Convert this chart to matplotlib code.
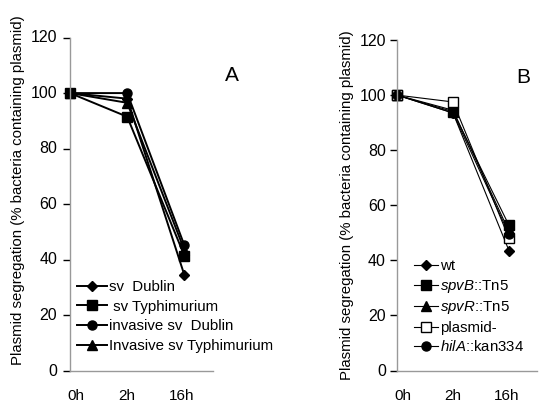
import matplotlib
matplotlib.use("Agg")
import matplotlib.pyplot as plt

plt.rcParams['font.family'] = ['Liberation Sans', 'DejaVu Sans']
plt.rcParams['mathtext.fontset'] = 'custom'
plt.rcParams['mathtext.rm'] = 'Liberation Sans'
plt.rcParams['mathtext.it'] = 'Liberation Sans:italic'

times = ["0h", "2h", "16h"]
yticks = [0, 20, 40, 60, 80, 100, 120]

# Panel A
a_labels = ["sv  Dublin", " sv Typhimurium", "invasive sv  Dublin", "Invasive sv Typhimurium"]
a_sv_dublin = [100, 98, 34.5]
a_sv_typhi = [100, 91.5, 41.5]
a_inv_dublin = [100, 100, 45.2]
a_inv_typhi = [100, 96.5, 43.5]

# Panel B
b_labels = ["wt", "$\\it{spvB}$::Tn$\\it{5}$", "$\\it{spvR}$::Tn$\\it{5}$", "plasmid-", "$\\it{hilA}$::kan334"]
b_wt = [100, 93.5, 43.5]
b_spvB = [100, 94, 52.7]
b_spvR = [100, 94.5, 50.5]
b_plasmid = [100, 97.5, 48]
b_hilA = [100, 93.5, 49.5]

W, H = 548, 407
fig = plt.figure(figsize=(W/100, H/100), dpi=100)

def px(l, r, t, b):
    return [l/W, 1 - b/H, (r-l)/W, (b-t)/H]

axA = fig.add_axes(px(70, 213, 37.5, 371))
axB = fig.add_axes(px(397, 537, 40, 370.5))

def style(ax):
    ax.set_ylim(0, 120)
    ax.set_xlim(0, 2.5)
    ax.set_yticks(yticks)
    ax.set_xticks([0.1, 1, 1.95])
    ax.set_xticklabels(times, fontsize=11)
    ax.tick_params(axis='x', length=0, pad=13)
    ax.tick_params(axis='y', direction='out', length=5, width=1, color='black', labelsize=11.5, pad=3)
    for s in ['top', 'right']:
        ax.spines[s].set_visible(False)
    for s in ['left', 'bottom']:
        ax.spines[s].set_color('#999999')
        ax.spines[s].set_linewidth(1.0)
    ax.set_ylabel("Plasmid segregation (% bacteria containing plasmid)", fontsize=10.8, labelpad=4)

x = [0, 1, 2]
lwA = 1.4
msA = 6.5
axA.plot(x, a_sv_dublin, color='black', lw=lwA, marker='D', ms=4.8, label=a_labels[0], clip_on=False)
axA.plot(x, a_sv_typhi, color='black', lw=lwA, marker='s', ms=msA, label=a_labels[1], clip_on=False)
axA.plot(x, a_inv_dublin, color='black', lw=lwA, marker='o', ms=msA, label=a_labels[2], clip_on=False)
axA.plot(x, a_inv_typhi, color='black', lw=lwA, marker='^', ms=msA, label=a_labels[3], clip_on=False)
style(axA)
axA.set_yticklabels([])
axA.set_ylabel("")
axA.legend(loc='lower left', bbox_to_anchor=(0.03, 0.045), frameon=False, fontsize=10.8,
           handlelength=2.0, handletextpad=0.1, labelspacing=0.38, borderaxespad=0, borderpad=0.2)
axA.text(2.83, 106.5, "A", fontsize=15, ha='center', va='center', clip_on=False)
fig.text(18/W, 1 - 190/H, "Plasmid segregation (% bacteria containing plasmid)", rotation=90,
         fontsize=10.8, ha='center', va='center')
for v in yticks:
    fig.text(57/W, 1 - (371 - v*2.78)/H, str(v), fontsize=11.5, ha='right', va='center')

lwB = 0.8
msB = 6.5
axB.plot(x, b_wt, color='black', lw=lwB, marker='D', ms=4.8, label=b_labels[0], clip_on=False)
axB.plot(x, b_spvB, color='black', lw=lwB, marker='s', ms=msB, label=b_labels[1], clip_on=False)
axB.plot(x, b_spvR, color='black', lw=lwB, marker='^', ms=msB, label=b_labels[2], clip_on=False)
axB.plot(x, b_plasmid, color='black', lw=lwB, marker='s', ms=msB, mfc='white', label=b_labels[3], clip_on=False)
axB.plot(x, b_hilA, color='black', lw=lwB, marker='o', ms=msB, label=b_labels[4], clip_on=False)
style(axB)
axB.legend(loc='lower left', bbox_to_anchor=(0.1, 0.04), frameon=False, fontsize=10.8,
           handlelength=1.6, handletextpad=0.15, labelspacing=0.3, borderaxespad=0, borderpad=0.2)
axB.text(2.25, 106.5, "B", fontsize=15, ha='center', va='center', clip_on=False)

fig.savefig("out.png", dpi=100)
